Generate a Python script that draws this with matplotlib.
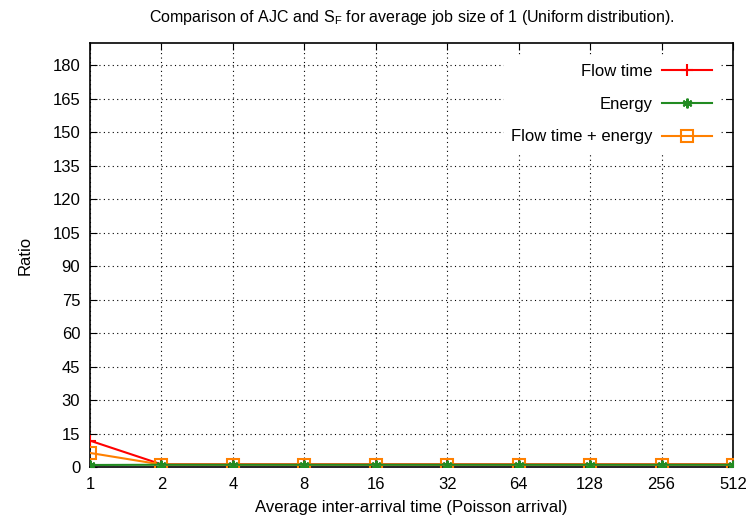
import matplotlib
matplotlib.use("Agg")
import matplotlib.pyplot as plt
import numpy as np

plt.rcParams['font.family'] = ['Liberation Sans', 'DejaVu Sans']

x_labels = ["1", "2", "4", "8", "16", "32", "64", "128", "256", "512"]
flow_time = [11.8, 1.2, 1.2, 1.2, 1.2, 1.2, 1.2, 1.2, 1.2, 1.2]
energy = [0.9, 1.0, 1.0, 1.0, 1.0, 1.0, 1.0, 1.0, 1.0, 1.0]
flow_energy = [6.3, 1.1, 1.1, 1.1, 1.1, 1.1, 1.1, 1.1, 1.1, 1.1]
y_ticks = list(range(0, 181, 15))

fig = plt.figure(figsize=(7.51, 5.22), dpi=100)
ax = fig.add_axes([90/751, 1-467/522, (733-90)/751, (467-43)/522])

xi = np.arange(len(x_labels))
ax.plot(xi, flow_time, color='#ff0000', marker='+', markersize=9, lw=1.5, mew=1.5, label='Flow time', zorder=3)
ax.plot(xi, flow_energy, color='#ff8000', marker='s', markersize=9, mfc='none', lw=1.5, mew=1.5, label='Flow time + energy', zorder=3)
ax.plot(xi, energy, color='#228b22', marker=(6, 2, 0), markersize=7, lw=1.5, mew=1.5, label='Energy', zorder=3)

ax.set_xlim(0, len(x_labels) - 1)
ax.set_ylim(0, 190)
ax.set_xticks(xi)
ax.set_xticklabels(x_labels)
ax.set_yticks(y_ticks)
ax.tick_params(direction='in', top=True, right=True, labelsize=12, length=5, pad=7)
ax.grid(True, color='black', linestyle=(0, (1, 3)), linewidth=0.8)
for s in ax.spines.values():
    s.set_linewidth(1.2)

ax.set_xlabel('Average inter-arrival time (Poisson arrival)', fontsize=12, labelpad=6)
ax.set_ylabel('Ratio', fontsize=12, labelpad=14)
ax.set_title(r'Comparison of AJC and S$_\mathregular{F}$ for average job size of 1 (Uniform distribution).', fontsize=11.5, pad=15)

handles, labels = ax.get_legend_handles_labels()
order = [0, 2, 1]
leg = ax.legend([handles[i] for i in order], [labels[i] for i in order],
                loc='upper right', markerfirst=False, frameon=True, fontsize=12,
                handlelength=3.0, labelspacing=1.07, borderaxespad=0.85, handletextpad=0.6)
leg.get_frame().set_edgecolor('white')
leg.get_frame().set_facecolor('white')
leg.get_frame().set_alpha(1)

fig.savefig('out.png', dpi=100)
